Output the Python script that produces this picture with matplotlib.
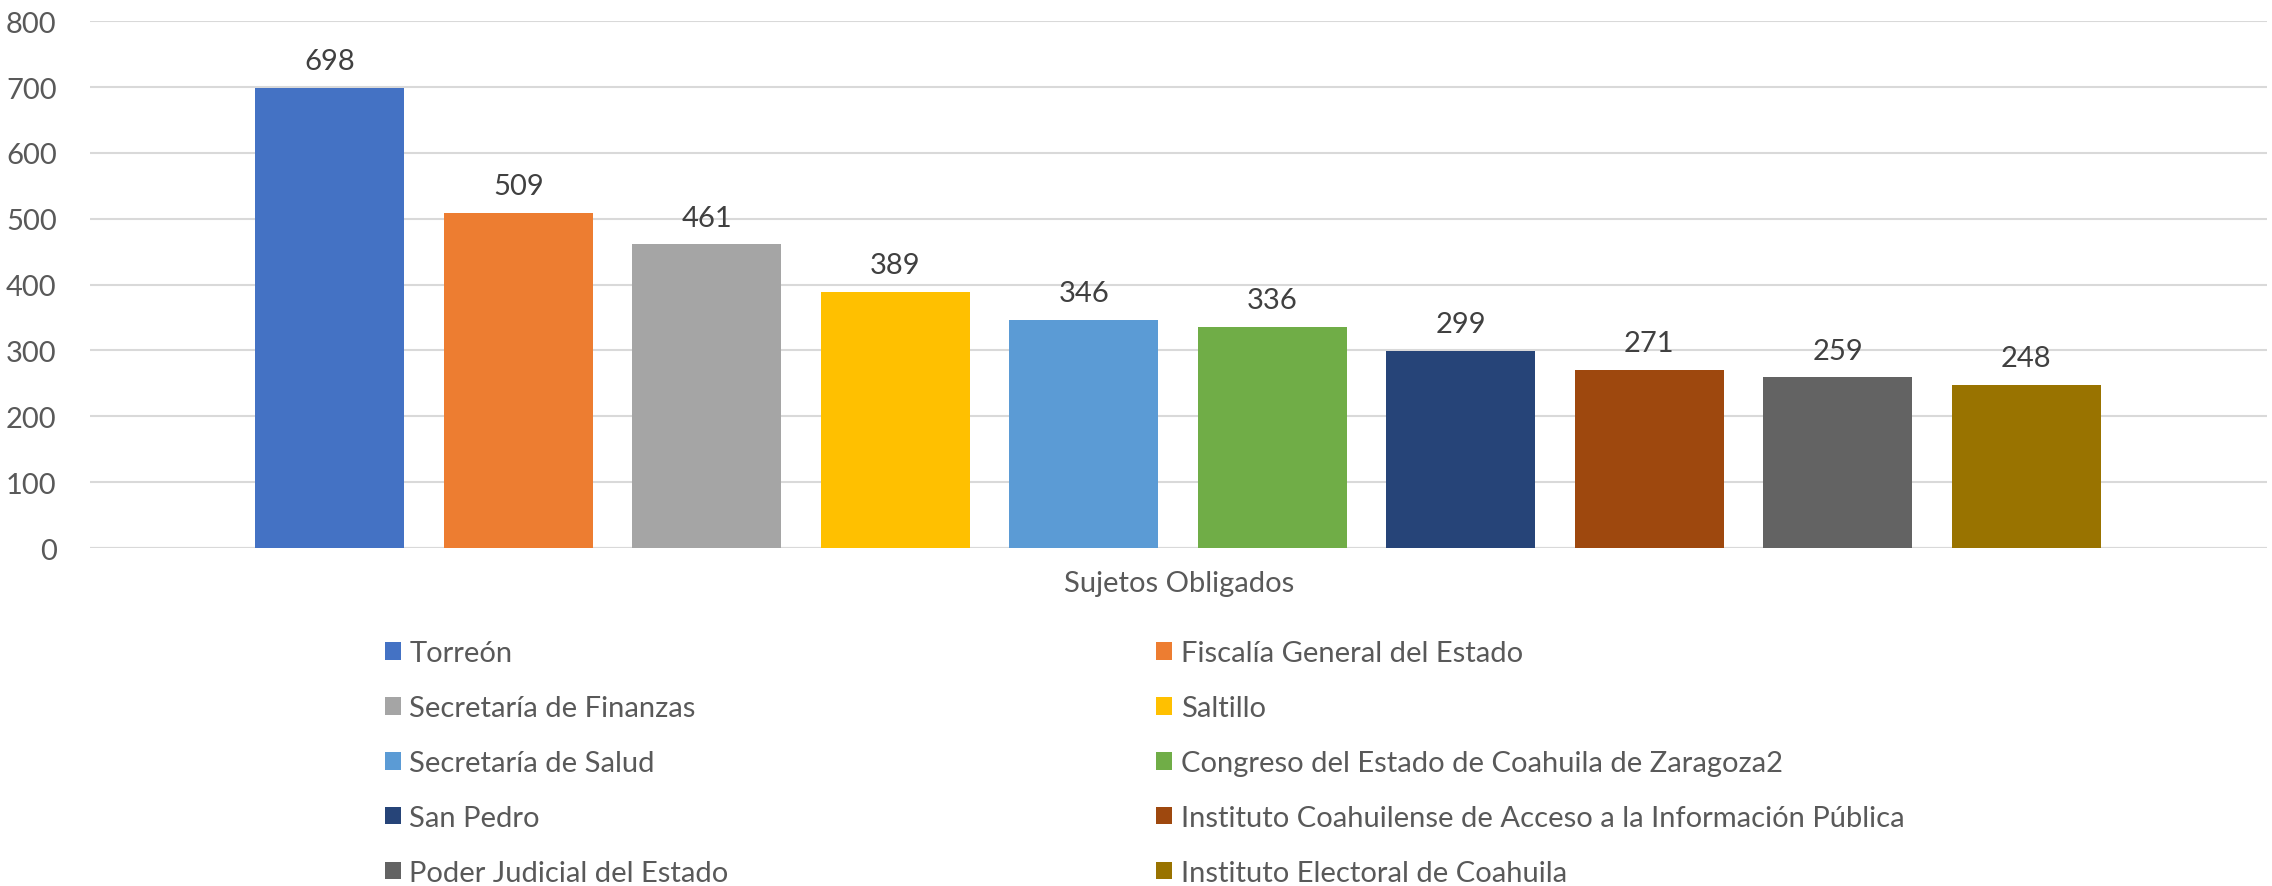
import matplotlib.pyplot as plt
from matplotlib.patches import Patch

plt.rcParams['font.family'] = ['Lato', 'DejaVu Sans']

categoria = "Sujetos Obligados"
sujetos = ["Torreón", "Fiscalía General del Estado", "Secretaría de Finanzas", "Saltillo",
           "Secretaría de Salud", "Congreso del Estado de Coahuila de Zaragoza2",
           "San Pedro", "Instituto Coahuilense de Acceso a la Información Pública",
           "Poder Judicial del Estado", "Instituto Electoral de Coahuila"]
valores = [698, 509, 461, 389, 346, 336, 299, 271, 259, 248]
colores = ["#4472C4", "#ED7D31", "#A5A5A5", "#FFC000", "#5B9BD5",
           "#70AD47", "#264478", "#9E480E", "#636363", "#997300"]
yticks = [0, 100, 200, 300, 400, 500, 600, 700, 800]

fig = plt.figure(figsize=(22.72, 8.87), dpi=100)
ax = fig.add_axes([0.0396, 0.381, 0.9584, 0.594])

x = list(range(len(valores)))
bars = ax.bar(x, valores, width=0.79, color=colores, zorder=2)
for b, v in zip(bars, valores):
    ax.annotate(str(v), (b.get_x() + b.get_width() / 2, v), xytext=(0, 10),
                textcoords='offset points', ha='center', va='bottom',
                fontsize=21, color='#404040')

ax.set_xlim(-1.273, 10.28)
ax.set_ylim(0, 800)
ax.set_yticks(yticks)
ax.set_xticks([])
ax.grid(axis='y', color='#D9D9D9', linewidth=1.5, zorder=0)
for s in ax.spines.values():
    s.set_visible(False)
ax.axhline(0, color='#D9D9D9', linewidth=1.5, zorder=1)
ax.tick_params(axis='y', length=0, pad=24, labelsize=21, labelcolor='#595959')
ax.set_xlabel(categoria, fontsize=21, color='#595959', labelpad=16)

# leyenda en dos columnas, orden por filas
handles = [Patch(facecolor=c) for c in colores]
for col, xpos in [(0, 0.1693), (1, 0.5088)]:
    h = handles[col::2]
    l = sujetos[col::2]
    fig.legend(h, l, loc='upper left', bbox_to_anchor=(xpos, 0.277), ncol=1,
               frameon=False, fontsize=21, labelcolor='#595959',
               handlelength=0.55, handleheight=0.55, handletextpad=0.3,
               labelspacing=0.99, borderaxespad=0, borderpad=0)

fig.savefig("out.png", dpi=100)
